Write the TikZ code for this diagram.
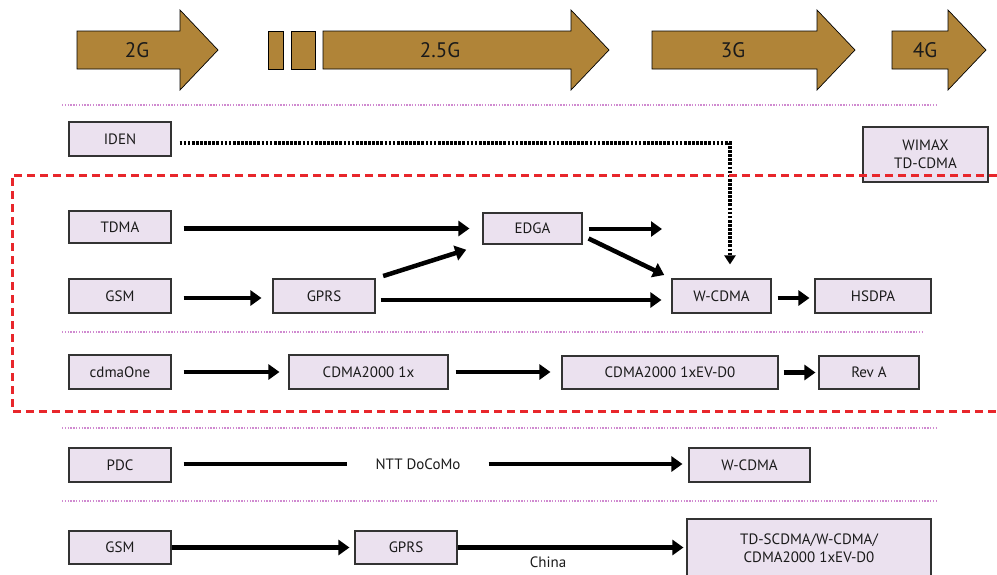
\documentclass[tikz,border=0pt]{standalone}
\usepackage{fontspec}
\setmainfont{PT Sans}
\usetikzlibrary{arrows.meta,calc}
\definecolor{erafill}{HTML}{B08438}
\definecolor{boxfill}{HTML}{EBE1EF}
\definecolor{boxline}{HTML}{333333}
\definecolor{sepline}{HTML}{D08AD0}
\definecolor{zoneline}{HTML}{E8262B}
\definecolor{ink}{HTML}{1A1A1A}

\begin{document}
\begin{tikzpicture}[x=1pt,y=-1pt,
  tech/.style={draw=boxline,fill=boxfill,line width=1.1pt,inner sep=0pt,
    text=ink,font=\fontsize{15}{18.5}\selectfont,align=center},
  era/.style={draw=black,line width=0.7pt,fill=erafill},
  eralabel/.style={font=\fontsize{21}{24}\selectfont,text=ink},
  plain/.style={font=\fontsize{15}{18.5}\selectfont,text=ink,inner sep=0pt},
  flow/.style={line width=4.5pt,-{Triangle[length=11pt,width=15pt]}},
  link/.style={line width=4.5pt},
  separator/.style={draw=sepline,line width=1.4pt,dash pattern=on 1.4pt off 1.4pt},
  zone/.style={draw=zoneline,line width=3pt,dash pattern=on 8pt off 5pt},
  legacy/.style={line width=3.3pt,dash pattern=on 2.7pt off 1.4pt,
    -{Triangle[length=9pt,width=11pt]}},
]
\useasboundingbox (0,0) rectangle (997,574);

% generation arrows along the top
\draw[era] (77,31) -- (180,31) -- (180,10) -- (218,50) -- (180,90) -- (180,69) -- (77,69) -- cycle;
\node[eralabel] (g2) at (137,50) {2G};
\draw[era] (268,31) rectangle (283,69);
\draw[era] (291,31) rectangle (315,69);
\draw[era] (323,31) -- (571,31) -- (571,10) -- (609,50) -- (571,90) -- (571,69) -- (323,69) -- cycle;
\node[eralabel] (g25) at (440,50) {2.5G};
\draw[era] (652,31) -- (817,31) -- (817,10) -- (855,50) -- (817,90) -- (817,69) -- (652,69) -- cycle;
\node[eralabel] (g3) at (733,50) {3G};
\draw[era] (892,31) -- (948,31) -- (948,10) -- (986,50) -- (948,90) -- (948,69) -- (892,69) -- cycle;
\node[eralabel] (g4) at (925,50) {4G};

% row separators
\draw[separator] (62,105) -- (937,105);
\draw[separator] (62,332) -- (924,332);
\draw[separator] (62,428) -- (937,428);
\draw[separator] (62,501) -- (937,501);

% technologies
\node[tech,minimum width=102pt,minimum height=34pt] (iden) at (120,139) {IDEN};
\node[tech,minimum width=125pt,minimum height=55pt] (wimax) at (925.5,154.5) {WIMAX\\TD-CDMA};

\node[tech,minimum width=102pt,minimum height=32pt] (tdma) at (120,227) {TDMA};
\node[tech,minimum width=99pt,minimum height=31pt] (edga) at (532.5,228.5) {EDGA};
\node[tech,minimum width=102pt,minimum height=34pt] (gsm) at (120,296) {GSM};
\node[tech,minimum width=102pt,minimum height=34pt] (gprs) at (324,296) {GPRS};
\node[tech,minimum width=99pt,minimum height=34pt] (wcdma) at (721.5,296) {W-CDMA};
\node[tech,minimum width=116pt,minimum height=34pt] (hsdpa) at (873,296) {HSDPA};

\node[tech,minimum width=102pt,minimum height=34pt] (cdmaone) at (120,372) {cdmaOne};
\node[tech,minimum width=159pt,minimum height=34pt] (cdmaonex) at (368.5,372) {CDMA2000 1x};
\node[tech,minimum width=216pt,minimum height=33pt] (evdo) at (670,372.5) {CDMA2000 1xEV-D0};
\node[tech,minimum width=100pt,minimum height=33pt] (reva) at (869,372.5) {Rev A};

\node[tech,minimum width=102pt,minimum height=34pt] (pdc) at (120,465) {PDC};
\node[plain,inner xsep=28pt] (ntt) at (418,464) {NTT DoCoMo};
\node[tech,minimum width=121pt,minimum height=34pt] (wcdmajp) at (749.5,465) {W-CDMA};

\node[tech,minimum width=102pt,minimum height=33pt] (gsmcn) at (120,547.5) {GSM};
\node[tech,minimum width=102pt,minimum height=33pt] (gprscn) at (406,547.5) {GPRS};
\node[tech,minimum width=244pt,minimum height=58pt] (threegcn) at (809,548) {TD-SCDMA/W-CDMA/\\CDMA2000 1xEV-D0};
\node[plain] (china) at (548,562) {China};

% migration paths
\draw[flow,shorten <=12pt,shorten >=13pt] (tdma.east |- edga.west) -- (edga.west);
\coordinate (edgaout) at (662,229);
\draw[flow,shorten <=6pt] (edga.east |- edgaout) -- (edgaout);
\draw[flow,shorten >=8pt] ($(edga.east)+(6,10)$) -- (wcdma.north west);
\draw[flow,shorten <=12pt,shorten >=11pt] ($(gsm.east)+(0,2)$) -- ($(gprs.west)+(0,2)$);
\draw[flow,shorten <=8pt,shorten >=17pt] (gprs.north east) -- (edga.south west);
\draw[flow,shorten <=5pt,shorten >=10pt] ($(gprs.east)+(0,4)$) -- ($(wcdma.west)+(0,4)$);
\draw[flow,shorten <=6pt,shorten >=5pt] ($(wcdma.east)+(0,2)$) -- ($(hsdpa.west)+(0,2)$);

\draw[flow,shorten <=12pt,shorten >=9pt] (cdmaone.east) -- (cdmaonex.west);
\draw[flow,shorten <=7pt,shorten >=11pt] (cdmaonex.east) -- (cdmaonex.east -| evdo.west);
\draw[flow,shorten <=5pt,shorten >=3pt] (evdo.east) -- (reva.west);

\draw[link,shorten <=12pt] (pdc.east |- ntt.west) -- (ntt.west);
\draw[flow,shorten >=6pt] (ntt.east) -- (ntt.east -| wcdmajp.west);

\draw[flow,shorten >=5pt] (gsmcn.east) -- (gprscn.west);
\draw[flow,shorten >=3pt] (gprscn.east) -- (gprscn.east -| threegcn.west);

% IDEN merges into W-CDMA
\draw[legacy,shorten <=8pt,shorten >=14pt] ($(iden.east)+(0,4)$) -| ($(wcdma.north)+(8.5,0)$);

% mainstream 2G/3G zone
\draw[zone] (997,175) -- (12,175) -- (12,411) -- (997,411);
\end{tikzpicture}
\end{document}
